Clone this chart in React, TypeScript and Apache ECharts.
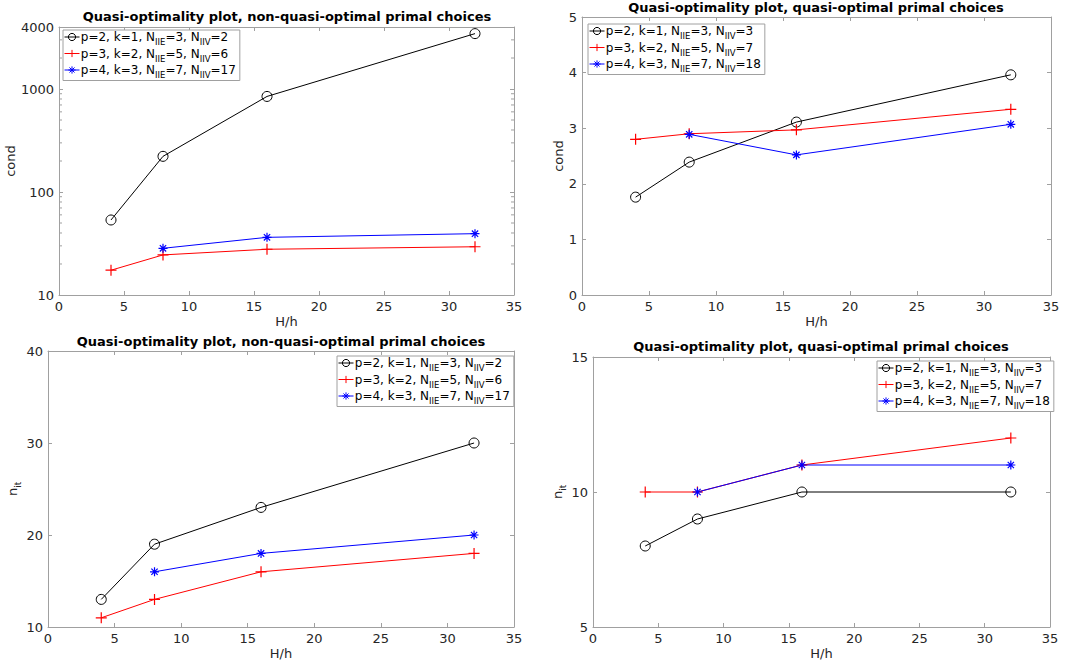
import React, { useEffect, useRef } from "react";
import * as echarts from "echarts";

// ---- data ----
const xAll = [4, 8, 16, 32];
const xBlue = [8, 16, 32];

// top-left: cond, non-quasi-optimal (log scale)
const condNQ_black = [53.5, 222, 847, 3450];
const condNQ_red = [17.4, 24.5, 27.8, 29.4];
const condNQ_blue = [28.4, 36.3, 39.4];

// top-right: cond, quasi-optimal
const condQ_black = [1.76, 2.39, 3.11, 3.96];
const condQ_red = [2.8, 2.9, 2.97, 3.34];
const condQ_blue = [2.89, 2.52, 3.07];

// bottom-left: n_it, non-quasi-optimal
const itNQ_black = [13, 19, 23, 30];
const itNQ_red = [11, 13, 16, 18];
const itNQ_blue = [16, 18, 20];

// bottom-right: n_it, quasi-optimal
const itQ_black = [8, 9, 10, 10];
const itQ_red = [10, 10, 11, 12];
const itQ_blue = [10, 11, 11];

const logMinorTicks = [20, 30, 40, 50, 60, 70, 80, 90, 200, 300, 400, 500, 600, 700, 800, 900, 2000, 3000];

const titleNQ = "Quasi-optimality plot, non-quasi-optimal primal choices";
const titleQ = "Quasi-optimality plot, quasi-optimal primal choices";

const legendNQ = [
  "{z| }p=2, k=1, N{s|IIE}=3, N{s|IIV}=2",
  "{z| }p=3, k=2, N{s|IIE}=5, N{s|IIV}=6",
  "{z| }p=4, k=3, N{s|IIE}=7, N{s|IIV}=17",
];
const legendQ = [
  "{z| }p=2, k=1, N{s|IIE}=3, N{s|IIV}=3",
  "{z| }p=3, k=2, N{s|IIE}=5, N{s|IIV}=7",
  "{z| }p=4, k=3, N{s|IIE}=7, N{s|IIV}=18",
];

const FONT = "DejaVu Sans";
const AXIS_COLOR = "#a0a0a0";
const TEXT_COLOR = "#262626";

const PLUS = "path://M0 5 L10 5 M5 0 L5 10";
const STAR = "path://M0 5 L10 5 M5 0 L5 10 M1.5 1.5 L8.5 8.5 M1.5 8.5 L8.5 1.5";

export default function App() {
  const ref = useRef<HTMLDivElement>(null);

  useEffect(() => {
    if (!ref.current) return;
    const chart = echarts.init(ref.current, undefined, { renderer: "svg" });

    const grids = [
      { left: 59, top: 27, width: 455, height: 268 },
      { left: 582, top: 17, width: 469, height: 278 },
      { left: 48, top: 351, width: 466, height: 276 },
      { left: 593, top: 357, width: 457, height: 270 },
    ];

    const yCfg: any[] = [
      { type: "log", min: 10, max: 4000, name: "cond", nameGap: 35 },
      { type: "value", min: 0, max: 5, interval: 1, name: "cond", nameGap: 14 },
      { type: "value", min: 10, max: 40, interval: 10, name: "{z| }n{s|it}", nameGap: 20 },
      { type: "value", min: 5, max: 15, interval: 5, name: "{z| }n{s|it}", nameGap: 20 },
    ];

    const axisLine = { show: true, onZero: false, lineStyle: { color: AXIS_COLOR, width: 1 } };
    const axisTick = { show: true, inside: true, length: 4, lineStyle: { color: AXIS_COLOR } };

    const xAxis: any[] = [];
    const yAxis: any[] = [];
    grids.forEach((g, i) => {
      xAxis.push({
        type: "value", gridIndex: i, min: 0, max: 35, interval: 5, position: "bottom",
        axisLine, axisTick, splitLine: { show: false },
        axisLabel: { color: TEXT_COLOR, fontSize: 13, fontFamily: FONT, margin: 5 },
        name: "H/h", nameLocation: "middle", nameGap: 20,
        nameTextStyle: { color: TEXT_COLOR, fontSize: 13, fontFamily: FONT },
      });
      xAxis.push({
        type: "value", gridIndex: i, min: 0, max: 35, interval: 5, position: "top",
        axisLine, axisTick, splitLine: { show: false }, axisLabel: { show: false },
      });
      const yc = yCfg[i];
      const base: any = { type: yc.type, min: yc.min, max: yc.max, gridIndex: i };
      if (yc.interval) base.interval = yc.interval;
      yAxis.push({
        ...base, position: "left", axisLine, axisTick, splitLine: { show: false },
        axisLabel: {
          color: TEXT_COLOR, fontSize: 13, fontFamily: FONT, margin: 5,
          formatter: (v: number) => String(Math.round(v)),
        },
        name: yc.name, nameLocation: "middle", nameGap: yc.nameGap, nameRotate: 90,
        nameTextStyle: {
          color: TEXT_COLOR, fontSize: 13, fontFamily: FONT,
          rich: {
            z: { fontSize: 1, lineHeight: 20 },
            s: { fontSize: 9, fontFamily: FONT, color: TEXT_COLOR, verticalAlign: "bottom", lineHeight: 11 },
          },
        },
      });
      yAxis.push({
        ...base, position: "right", axisLine, axisTick, splitLine: { show: false }, axisLabel: { show: false },
      });
    });

    const mkSeries = (i: number, names: string[], black: number[], red: number[], blue: number[]) => {
      const common = { type: "line", xAxisIndex: 2 * i, yAxisIndex: 2 * i, z: 3 };
      return [
        {
          ...common, name: names[0], data: xAll.map((x, k) => [x, black[k]]),
          symbol: "circle", symbolSize: 10,
          lineStyle: { color: "#000000", width: 1 },
          itemStyle: { color: "transparent", borderColor: "#000000", borderWidth: 1 },
        },
        {
          ...common, name: names[1], data: xAll.map((x, k) => [x, red[k]]),
          symbol: PLUS, symbolSize: 11,
          lineStyle: { color: "#ff0000", width: 1 },
          itemStyle: { color: "transparent", borderColor: "#ff0000", borderWidth: 1.2 },
        },
        {
          ...common, name: names[2], data: xBlue.map((x, k) => [x, blue[k]]),
          symbol: STAR, symbolSize: 9,
          lineStyle: { color: "#0000ff", width: 1 },
          itemStyle: { color: "transparent", borderColor: "#0000ff", borderWidth: 1.2 },
        },
      ];
    };

    const ids = [0, 1, 2, 3].map((i) => ["a", "b", "c"].map((s) => `g${i}${s}`));
    const labelMap: Record<string, string> = {};
    ids.forEach((arr, i) => {
      const lbls = i % 2 === 0 ? legendNQ : legendQ;
      arr.forEach((id, k) => (labelMap[id] = lbls[k]));
    });

    const series: any[] = [
      ...mkSeries(0, ids[0], condNQ_black, condNQ_red, condNQ_blue),
      ...mkSeries(1, ids[1], condQ_black, condQ_red, condQ_blue),
      ...mkSeries(2, ids[2], itNQ_black, itNQ_red, itNQ_blue),
      ...mkSeries(3, ids[3], itQ_black, itQ_red, itQ_blue),
      {
        type: "custom", name: "minor", xAxisIndex: 0, yAxisIndex: 0, silent: true, z: 2,
        data: logMinorTicks.map((v) => [0, v]),
        renderItem: (_p: any, api: any) => {
          const v = api.value(1);
          const l = api.coord([0, v]);
          const r = api.coord([35, v]);
          return {
            type: "group",
            children: [
              { type: "line", shape: { x1: l[0], y1: l[1], x2: l[0] + 3, y2: l[1] }, style: { stroke: AXIS_COLOR, lineWidth: 1 } },
              { type: "line", shape: { x1: r[0] - 3, y1: r[1], x2: r[0], y2: r[1] }, style: { stroke: AXIS_COLOR, lineWidth: 1 } },
            ],
          };
        },
      },
    ];

    const legendPos = [
      { left: 63, top: 30 },
      { left: 588, top: 24 },
      { left: 337, top: 356 },
      { left: 877, top: 361 },
    ];

    const legend = legendPos.map((p, i) => ({
      ...p,
      orient: "vertical",
      data: ids[i],
      itemWidth: 15,
      itemHeight: 9,
      itemGap: 1,
      padding: [1, 4, 1, 1],
      borderColor: AXIS_COLOR,
      borderWidth: 1,
      borderRadius: 0,
      backgroundColor: "#ffffff",
      selectedMode: false,
      itemStyle: { color: "transparent", borderWidth: 1 },
      lineStyle: { width: 1 },
      formatter: (name: string) => labelMap[name],
      textStyle: {
        color: "#000000", fontSize: 12, fontFamily: FONT, padding: [0, 0, 0, -4],
        rich: {
          z: { fontSize: 1, lineHeight: 19 },
          s: { fontSize: 8.5, fontFamily: FONT, color: "#000000", verticalAlign: "bottom", lineHeight: 10 },
        },
      },
    }));

    const titles = [
      { x: 287, y: 16, t: titleNQ },
      { x: 816, y: 7, t: titleQ },
      { x: 281, y: 341, t: titleNQ },
      { x: 821, y: 346, t: titleQ },
    ];

    chart.setOption({
      animation: false,
      backgroundColor: "#ffffff",
      grid: grids.map((g) => ({ ...g, outerBoundsMode: "none", containLabel: false })),
      xAxis,
      yAxis,
      legend,
      series,
      graphic: titles.map((t) => ({
        type: "text",
        x: t.x,
        y: t.y,
        style: {
          text: t.t,
          textAlign: "center",
          textVerticalAlign: "middle",
          font: `bold 13px "${FONT}"`,
          fill: "#000000",
        },
      })),
    });

    return () => chart.dispose();
  }, []);

  return (
    <div
      ref={ref}
      style={{ position: "absolute", left: 0, top: 0, width: 1087, height: 667 }}
    />
  );
}
